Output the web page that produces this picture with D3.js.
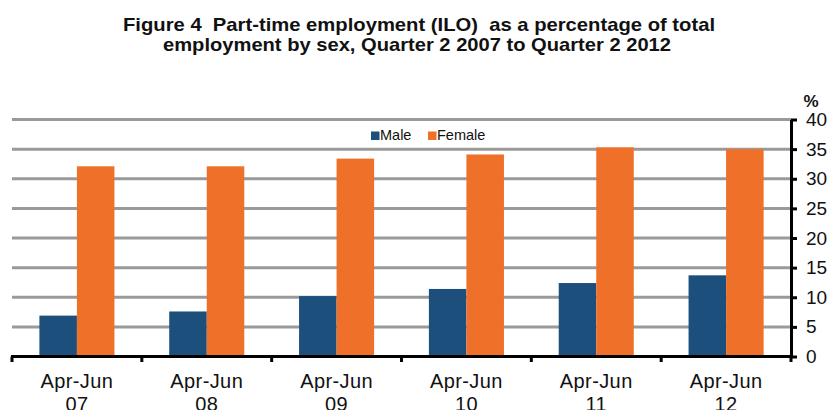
<!DOCTYPE html>
<html>
<head>
<meta charset="utf-8">
<script src="https://cdn.jsdelivr.net/npm/d3@7"></script>
<style>
  html, body { margin: 0; padding: 0; background: #fff; }
  svg { display: block; font-family: "Liberation Sans", Arial, sans-serif; }
</style>
</head>
<body>
<svg id="chart" width="832" height="410"></svg>
<script>
const categories = ["Apr-Jun\n07", "Apr-Jun\n08", "Apr-Jun\n09", "Apr-Jun\n10", "Apr-Jun\n11", "Apr-Jun\n12"];
const seriesNames = ["Male", "Female"];
const maleValues = [6.9, 7.6, 10.2, 11.4, 12.4, 13.7];
const femaleValues = [32.1, 32.1, 33.4, 34.1, 35.3, 35.0];
const yTicks = [0, 5, 10, 15, 20, 25, 30, 35, 40];
const titleLines = ["Figure 4  Part-time employment (ILO)  as a percentage of total",
                    "employment by sex, Quarter 2 2007 to Quarter 2 2012"];
const colors = {Male: "#1d4f7d", Female: "#ef7029"};

const svg = d3.select("#chart");
const W = 832, H = 410;
const x0 = 12, x1 = 791;
const yTop = 119.5, yBot = 356.5;

const x = d3.scaleBand().domain(categories).range([x0, x1]).paddingInner(0).paddingOuter(0);
const xs = d3.scaleBand().domain(seriesNames).range([0, x.bandwidth()]).paddingInner(0).paddingOuter(0.73);
const y = d3.scaleLinear().domain([0, 40]).range([yBot, yTop]);

// title
const title = svg.append("g");
const titleSpec = [{cx: 419, y: 31, len: 592}, {cx: 417, y: 50.5, len: 508}];
titleLines.forEach((t, i) => {
  title.append("text")
    .attr("x", titleSpec[i].cx).attr("y", titleSpec[i].y)
    .attr("text-anchor", "middle")
    .attr("font-size", 19).attr("font-weight", "bold")
    .attr("textLength", titleSpec[i].len)
    .attr("lengthAdjust", "spacingAndGlyphs")
    .attr("fill", "#111")
    .style("white-space", "pre")
    .text(t);
});

// gridlines
svg.append("g").selectAll("line").data(yTicks.filter(d => d > 0)).join("line")
  .attr("x1", x0).attr("x2", x1)
  .attr("y1", d => y(d)).attr("y2", d => y(d))
  .attr("stroke", "#9a9a9a").attr("stroke-width", 3);

// bars
const data = categories.map((c, i) => ({cat: c, vals: [
  {s: "Male", v: maleValues[i]}, {s: "Female", v: femaleValues[i]}]}));
const groups = svg.append("g").selectAll("g").data(data).join("g")
  .attr("transform", d => `translate(${x(d.cat)},0)`);
groups.selectAll("rect").data(d => d.vals).join("rect")
  .attr("x", d => xs(d.s)).attr("width", xs.bandwidth())
  .attr("y", d => y(d.v)).attr("height", d => yBot - y(d.v))
  .attr("fill", d => colors[d.s]);

// right axis
const yAxis = d3.axisRight(y).tickValues(yTicks).tickSize(6).tickPadding(9).tickSizeOuter(0);
const gy = svg.append("g").attr("transform", `translate(${x1},0)`).call(yAxis);
gy.select(".domain").attr("stroke", "#000").attr("stroke-width", 3);
gy.selectAll(".tick line").attr("stroke", "#000").attr("stroke-width", 3);
gy.selectAll(".tick text").attr("font-size", 19).attr("fill", "#111")
  .attr("font-family", "'Liberation Sans', Arial, sans-serif");

// bottom axis
const xAxis = d3.axisBottom(x).tickSize(0).tickFormat("");
const gx = svg.append("g").attr("transform", `translate(0,${yBot})`).call(xAxis);
gx.select(".domain").remove();
gx.append("line").attr("x1", x0 - 1).attr("x2", x1 + 1).attr("y1", 0).attr("y2", 0)
  .attr("stroke", "#000").attr("stroke-width", 3);
const boundaries = categories.map(c => x(c)).concat([x1]);
gx.selectAll(".bnd").data(boundaries).join("line").attr("class", "bnd")
  .attr("x1", d => d).attr("x2", d => d).attr("y1", 0).attr("y2", 5.5)
  .attr("stroke", "#000").attr("stroke-width", 3);
svg.append("g").selectAll("text").data(categories).join("text")
  .attr("text-anchor", "middle")
  .attr("font-size", 20).attr("fill", "#111").attr("letter-spacing", 0.4)
  .each(function(d) {
    const parts = d.split("\n");
    const t = d3.select(this);
    parts.forEach((p, i) => {
      t.append("tspan").attr("x", x(d) + x.bandwidth() / 2).attr("y", 388 + i * 23).text(p);
    });
  });

// % label
svg.append("text").attr("x", 811).attr("y", 107).attr("text-anchor", "middle")
  .attr("font-size", 17).attr("font-weight", "bold").attr("fill", "#111").text("%");

// legend
const legend = svg.append("g");
const legendItems = [{s: "Male", x: 371}, {s: "Female", x: 428}];
legendItems.forEach(it => {
  legend.append("rect").attr("x", it.x).attr("y", 131.5).attr("width", 8.5).attr("height", 8.5)
    .attr("fill", colors[it.s]);
  legend.append("text").attr("x", it.x + 9).attr("y", 139.5)
    .attr("font-size", 14.5).attr("fill", "#111").text(it.s);
});
</script>
</body>
</html>
